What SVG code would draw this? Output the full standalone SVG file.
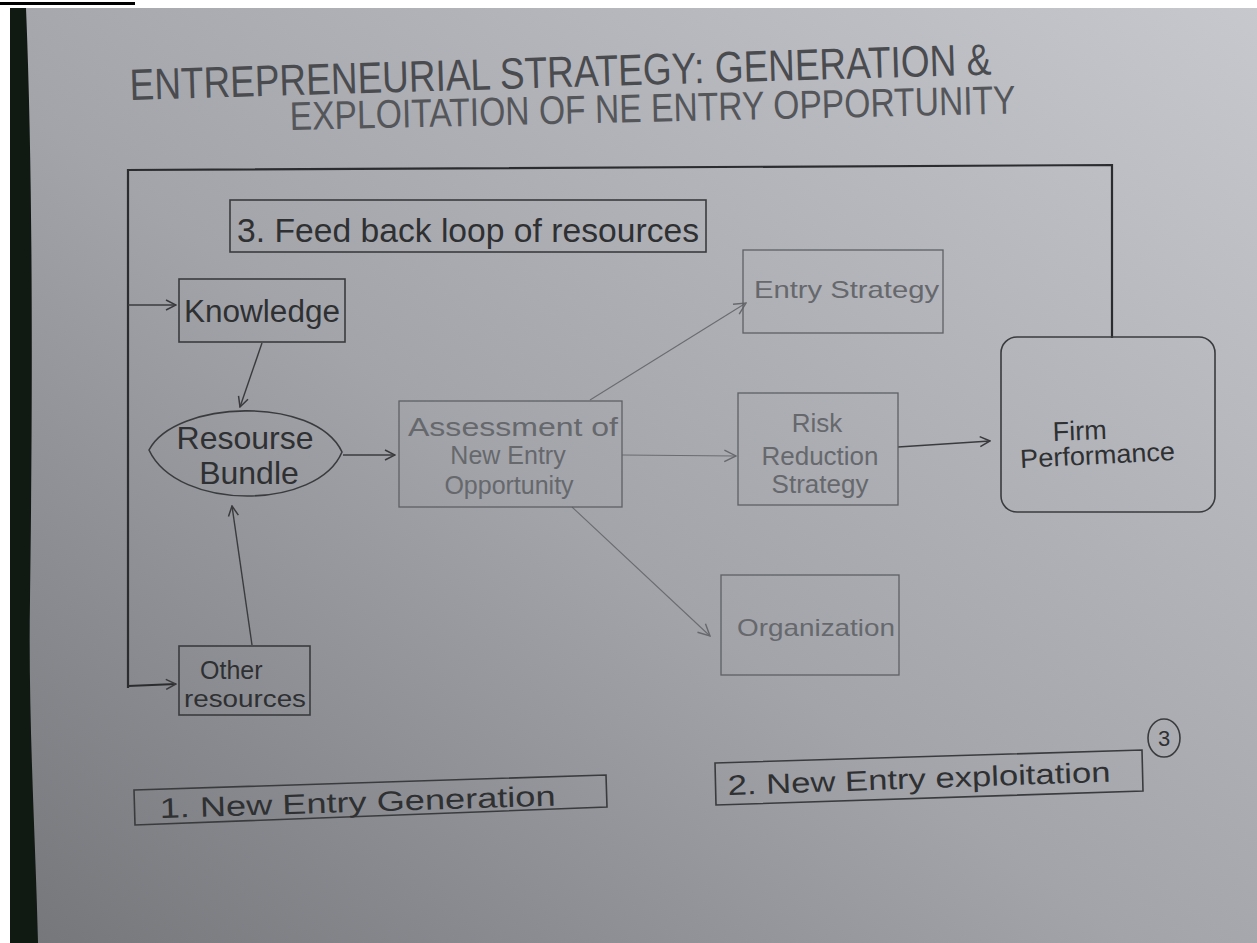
<svg xmlns="http://www.w3.org/2000/svg" width="1257" height="943" viewBox="0 0 1257 943">
<defs>
<linearGradient id="paper" x1="0" y1="1" x2="1" y2="0">
<stop offset="0" stop-color="#74767a"/>
<stop offset="0.45" stop-color="#a2a4aa"/>
<stop offset="1" stop-color="#c6c8ce"/>
</linearGradient>
<marker id="arr" viewBox="0 0 12 12" refX="11" refY="6" markerWidth="12" markerHeight="12" markerUnits="userSpaceOnUse" orient="auto">
<path d="M1,1 L11,6 L1,11" fill="none" stroke="#3a3a3c" stroke-width="1.5"/>
</marker>
<marker id="arrL" viewBox="0 0 12 12" refX="11" refY="6" markerWidth="14" markerHeight="14" markerUnits="userSpaceOnUse" orient="auto">
<path d="M1,1 L11,6 L1,11" fill="none" stroke="#66686c" stroke-width="1.2"/>
</marker>
</defs>
<style>
.t{font-family:"Liberation Sans","DejaVu Sans",sans-serif;fill:#2f3032}
.tl{font-family:"Liberation Sans","DejaVu Sans",sans-serif;fill:#66686c}
.box{fill:none;stroke:#3a3b3d;stroke-width:1.6}
.boxl{fill:none;stroke:#5e6064;stroke-width:1.3}
.ln{fill:none;stroke:#2b2c2e;stroke-width:2.2}
.cn{fill:none;stroke:#3a3b3d;stroke-width:1.4}
.cnl{fill:none;stroke:#6a6c70;stroke-width:1.1}
</style>
<rect width="1257" height="943" fill="#ffffff"/>
<rect x="10" y="8" width="1247" height="935" fill="url(#paper)"/>
<path d="M10,8 L26,8 C34,200 32,450 30,600 C28,720 36,850 38,943 L10,943 Z" fill="#111913"/>
<rect x="0" y="2" width="135" height="3" fill="#000"/>

<g id="title">
<text class="t" x="130" y="100" font-size="44" textLength="862" lengthAdjust="spacingAndGlyphs" transform="rotate(-1.7 130 100)" style="fill:#4a4b4f">ENTREPRENEURIAL STRATEGY: GENERATION &amp;</text>
<text class="t" x="290" y="130" font-size="40" textLength="726" lengthAdjust="spacingAndGlyphs" transform="rotate(-1.3 290 130)" style="fill:#55565a">EXPLOITATION OF NE ENTRY OPPORTUNITY</text>
</g>

<g id="connectors">
<path class="ln" d="M1112,338 L1112,165 L128,170 L128,688"/>
<path class="cn" d="M128,305 L176,305" marker-end="url(#arr)"/>
<path class="ln" d="M128,686 L176,684" marker-end="url(#arr)"/>
<path class="cn" d="M262,343 L240,407" marker-end="url(#arr)"/>
<path class="cn" d="M252,645 L232,506" marker-end="url(#arr)"/>
<path class="cn" d="M343,455 L395,455" marker-end="url(#arr)"/>
<path class="cnl" d="M590,400 L746,303" marker-end="url(#arrL)"/>
<path class="cnl" d="M622,455 L736,456" marker-end="url(#arrL)"/>
<path class="cn" d="M898,447 L990,441" marker-end="url(#arr)"/>
<path class="cnl" d="M572,507 L710,636" marker-end="url(#arrL)"/>
</g>

<g id="feedback-label">
<rect class="box" x="230" y="200" width="476" height="52"/>
<text class="t" x="237" y="242" font-size="34" textLength="462" lengthAdjust="spacingAndGlyphs">3. Feed back loop of resources</text>
</g>

<g id="knowledge">
<rect class="box" x="179" y="279" width="166" height="63"/>
<text class="t" x="184" y="322" font-size="31" textLength="156" lengthAdjust="spacingAndGlyphs">Knowledge</text>
</g>

<g id="resource-bundle">
<path class="box" d="M149,450 C175,400 315,395 342,452 C318,510 178,512 149,450 Z"/>
<text class="t" x="245" y="449" font-size="32" text-anchor="middle">Resourse</text>
<text class="t" x="249" y="484" font-size="32" text-anchor="middle">Bundle</text>
</g>

<g id="other-resources">
<rect class="box" x="179" y="646" width="131" height="69"/>
<text class="t" x="200" y="679" font-size="25">Other</text>
<text class="t" x="184" y="707" font-size="24" textLength="122" lengthAdjust="spacingAndGlyphs">resources</text>
</g>

<g id="assessment">
<rect class="boxl" x="399" y="401" width="223" height="106"/>
<text class="tl" x="408" y="436" font-size="26" textLength="210" lengthAdjust="spacingAndGlyphs">Assessment of</text>
<text class="tl" x="508" y="464" font-size="25" text-anchor="middle">New Entry</text>
<text class="tl" x="509" y="494" font-size="25" text-anchor="middle">Opportunity</text>
</g>

<g id="entry-strategy">
<rect class="boxl" x="743" y="250" width="200" height="83"/>
<text class="tl" x="754" y="298" font-size="24" textLength="185" lengthAdjust="spacingAndGlyphs">Entry Strategy</text>
</g>

<g id="risk-reduction">
<rect class="boxl" x="738" y="393" width="160" height="112"/>
<text class="tl" x="817" y="432" font-size="26" text-anchor="middle">Risk</text>
<text class="tl" x="820" y="465" font-size="26" text-anchor="middle">Reduction</text>
<text class="tl" x="820" y="493" font-size="26" text-anchor="middle">Strategy</text>
</g>

<g id="firm-performance">
<rect class="box" x="1001" y="337" width="214" height="175" rx="16"/>
<text class="t" x="1080" y="440" font-size="27" text-anchor="middle" transform="rotate(-2 1080 440)">Firm</text>
<text class="t" x="1098" y="464" font-size="26" text-anchor="middle" textLength="155" lengthAdjust="spacingAndGlyphs" transform="rotate(-3 1098 464)">Performance</text>
</g>

<g id="organization">
<rect class="boxl" x="721" y="575" width="178" height="100"/>
<text class="tl" x="737" y="636" font-size="24" textLength="158" lengthAdjust="spacingAndGlyphs">Organization</text>
</g>

<g id="new-entry-generation">
<path class="box" d="M134,790 L606,775 L607,807 L135,825 Z"/>
<text class="t" x="160" y="818" font-size="28" textLength="396" lengthAdjust="spacingAndGlyphs" transform="rotate(-1.8 160 818)">1. New Entry Generation</text>
</g>

<g id="new-entry-exploitation">
<path class="box" d="M715,763 L1142,750 L1143,791 L716,805 Z"/>
<text class="t" x="728" y="795" font-size="28" textLength="383" lengthAdjust="spacingAndGlyphs" transform="rotate(-2 728 795)">2. New Entry exploitation</text>
</g>

<g id="page-number">
<ellipse class="box" cx="1164" cy="738" rx="16" ry="19"/>
<text class="t" x="1164" y="746" font-size="22" text-anchor="middle">3</text>
</g>
</svg>
